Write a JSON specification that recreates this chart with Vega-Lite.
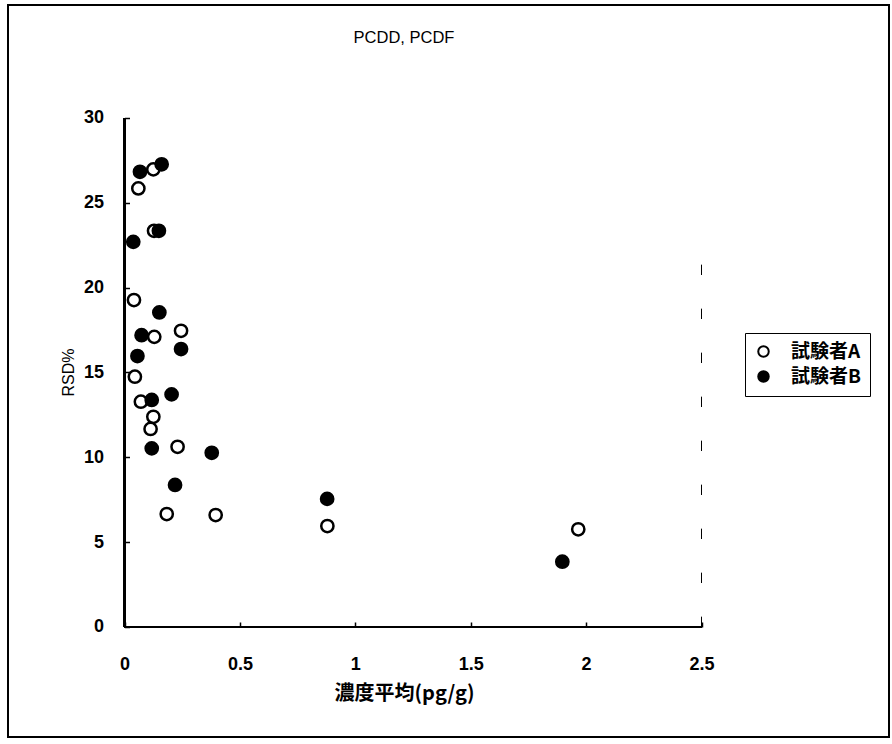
{
  "$schema": "https://vega.github.io/schema/vega-lite/v6.json",
  "autosize": {"type": "none"},
  "width": 881,
  "height": 732,
  "padding": {"left": 8, "top": 5, "right": 3, "bottom": 7},
  "background": "white",
  "config": {
    "view": {"stroke": "black", "strokeWidth": 2},
    "axis": {"grid": false, "domain": false, "tickColor": "black", "tickWidth": 1.5, "tickSize": -5, "labelColor": "black", "titleColor": "black"}
  },
  "title": {"text": "PCDD, PCDF", "offset": -49, "baseline": "middle", "dx": -44.5, "fontSize": 16.5, "fontWeight": "normal", "font": "Liberation Sans", "color": "black"},
  "data": {"values": [
    {"x": 0.125, "y": 26.97, "g": "試験者A"},
    {"x": 0.060, "y": 25.85, "g": "試験者A"},
    {"x": 0.128, "y": 23.35, "g": "試験者A"},
    {"x": 0.041, "y": 19.27, "g": "試験者A"},
    {"x": 0.129, "y": 17.10, "g": "試験者A"},
    {"x": 0.245, "y": 17.46, "g": "試験者A"},
    {"x": 0.045, "y": 14.75, "g": "試験者A"},
    {"x": 0.071, "y": 13.28, "g": "試験者A"},
    {"x": 0.125, "y": 12.39, "g": "試験者A"},
    {"x": 0.113, "y": 11.67, "g": "試験者A"},
    {"x": 0.230, "y": 10.62, "g": "試験者A"},
    {"x": 0.183, "y": 6.66, "g": "試験者A"},
    {"x": 0.395, "y": 6.60, "g": "試験者A"},
    {"x": 0.879, "y": 5.95, "g": "試験者A"},
    {"x": 1.966, "y": 5.76, "g": "試験者A"},
    {"x": 0.067, "y": 26.83, "g": "試験者B"},
    {"x": 0.161, "y": 27.27, "g": "試験者B"},
    {"x": 0.149, "y": 23.35, "g": "試験者B"},
    {"x": 0.038, "y": 22.70, "g": "試験者B"},
    {"x": 0.151, "y": 18.54, "g": "試験者B"},
    {"x": 0.074, "y": 17.20, "g": "試験者B"},
    {"x": 0.245, "y": 16.38, "g": "試験者B"},
    {"x": 0.056, "y": 15.97, "g": "試験者B"},
    {"x": 0.204, "y": 13.71, "g": "試験者B"},
    {"x": 0.118, "y": 13.38, "g": "試験者B"},
    {"x": 0.118, "y": 10.53, "g": "試験者B"},
    {"x": 0.219, "y": 8.37, "g": "試験者B"},
    {"x": 0.378, "y": 10.27, "g": "試験者B"},
    {"x": 0.878, "y": 7.55, "g": "試験者B"},
    {"x": 1.897, "y": 3.85, "g": "試験者B"}
  ]},
  "layer": [
    {
      "mark": {"type": "rule", "color": "black", "strokeWidth": 2},
      "encoding": {"x": {"datum": 0}, "x2": {"datum": 2.5}, "y": {"datum": 0}}
    },
    {
      "mark": {"type": "rule", "color": "black", "strokeWidth": 2},
      "encoding": {"x": {"datum": 0}, "y": {"datum": 0}, "y2": {"datum": 30}}
    },
    {
      "mark": {"type": "rule", "color": "black", "strokeWidth": 1, "strokeDash": [10, 34]},
      "encoding": {"x": {"datum": 2.5}, "y": {"datum": 0}, "y2": {"datum": 23}}
    },
    {
      "mark": {"type": "point", "filled": true, "size": 150, "stroke": "black", "strokeWidth": 2.5, "opacity": 1},
      "encoding": {
        "x": {"field": "x", "type": "quantitative",
          "scale": {"domain": [-0.50477, 3.31239], "nice": false, "zero": false},
          "axis": {"values": [0, 0.5, 1, 1.5, 2, 2.5], "format": "~g", "offset": -110, "title": "濃度平均(pg/g)", "titleFont": "Noto Sans CJK JP", "titleFontSize": 20, "titleFontWeight": "bold", "titleColor": "black", "titleX": 396, "titleY": 66, "titleBaseline": "middle", "titleAlign": "center", "labelFont": "Liberation Sans", "labelFontSize": 18, "labelFontWeight": "bold", "labelPadding": 33, "labelFlush": false}},
        "y": {"field": "y", "type": "quantitative",
          "scale": {"domain": [-6.4833, 36.6601], "nice": false, "zero": false},
          "axis": {"values": [0, 5, 10, 15, 20, 25, 30], "offset": -116.5, "title": "RSD%", "titleFont": "Liberation Sans", "titleFontSize": 16, "titleFontWeight": "normal", "titleColor": "black", "titleX": -56, "titleY": 367, "titleAngle": -90, "titleBaseline": "middle", "titleAlign": "center", "labelFont": "Liberation Sans", "labelFontSize": 18, "labelFontWeight": "bold", "labelPadding": 26}},
        "fill": {"field": "g", "type": "nominal",
          "scale": {"domain": ["試験者A", "試験者B"], "range": ["white", "black"]},
          "legend": {"orient": "none", "legendX": 737, "legendY": 328, "title": null, "strokeColor": "black", "padding": 9, "symbolType": "circle", "symbolSize": 110, "symbolStrokeWidth": 2, "symbolStrokeColor": "black", "labelFont": "Noto Sans CJK JP", "labelFontSize": 19, "labelFontWeight": "bold", "labelColor": "black", "labelOffset": 18, "rowPadding": 5}}
      }
    }
  ]
}
